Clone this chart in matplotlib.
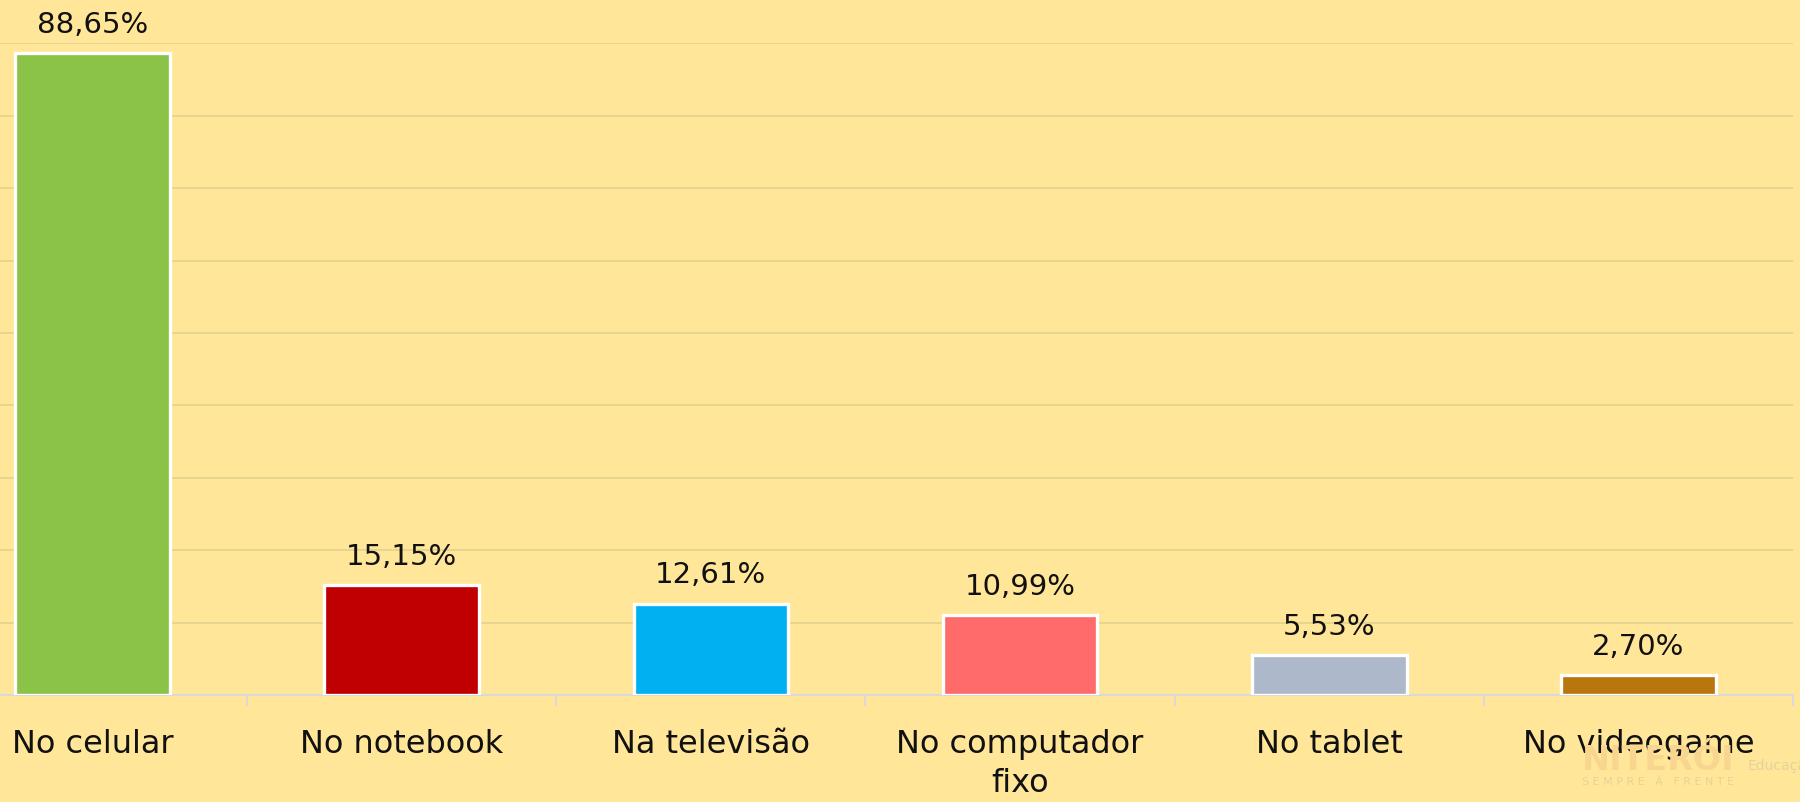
import matplotlib.pyplot as plt
import numpy as np

# === Data ===
categories = ["No celular", "No notebook", "Na televisão", "No computador\nfixo", "No tablet", "No videogame"]
values = [88.65, 15.15, 12.61, 10.99, 5.53, 2.70]
colors = ["#8bc248", "#c00000", "#00b0f0", "#ff6b6b", "#adb9ca", "#b8760c"]
labels = ["88,65%", "15,15%", "12,61%", "10,99%", "5,53%", "2,70%"]

bg = "#ffe699"

# === Figure ===
fig = plt.figure(figsize=(18, 8.03), dpi=100, facecolor=bg)
ax = fig.add_axes([-62 / 1800, 107 / 803, (1793 + 62) / 1800, (696 - 44.3) / 803])
ax.set_facecolor(bg)

x = np.arange(len(categories))
ax.bar(x, values, width=0.5, color=colors, edgecolor="white", linewidth=2.4, zorder=3)

for xi, v, lab in zip(x, values, labels):
    ax.annotate(lab, (xi, v), xytext=(0, 11), textcoords="offset points",
                ha="center", va="bottom", fontsize=21, color="#111111")

# === Axes styling ===
ax.set_xlim(-0.5, len(categories) - 0.5)
ax.set_ylim(0, 90)
ax.set_yticks(np.arange(0, 91, 10))
ax.yaxis.grid(True, color="#e5d48f", linewidth=1.3, zorder=0)
ax.tick_params(axis="y", left=False, labelleft=False)

for s in ["top", "right", "left"]:
    ax.spines[s].set_visible(False)
ax.spines["bottom"].set_color("#d9d9d9")
ax.spines["bottom"].set_linewidth(1.5)

ax.set_xticks(x)
ax.set_xticklabels(categories, fontsize=23, color="#111111", linespacing=1.3)
ax.tick_params(axis="x", which="major", length=0, pad=24)
ax.set_xticks(np.arange(0.5, len(categories), 1), minor=True)
ax.tick_params(axis="x", which="minor", length=8, width=1.5, color="#d9d9d9")

# === Faint watermark ===
fig.text(1658 / 1800, 1 - 761 / 803, "NITERÓI", fontsize=24, fontweight="bold",
         color="#f9d690", ha="center", va="center", zorder=0)
fig.text(1658 / 1800, 1 - 782 / 803, "S E M P R E   À   F R E N T E", fontsize=8,
         color="#e8d396", ha="center", va="center", zorder=0)
fig.text(1748 / 1800, 1 - 766 / 803, "Educação", fontsize=10,
         color="#e3d29c", ha="left", va="center", zorder=0)

plt.savefig("out.png", dpi=100, facecolor=bg)
